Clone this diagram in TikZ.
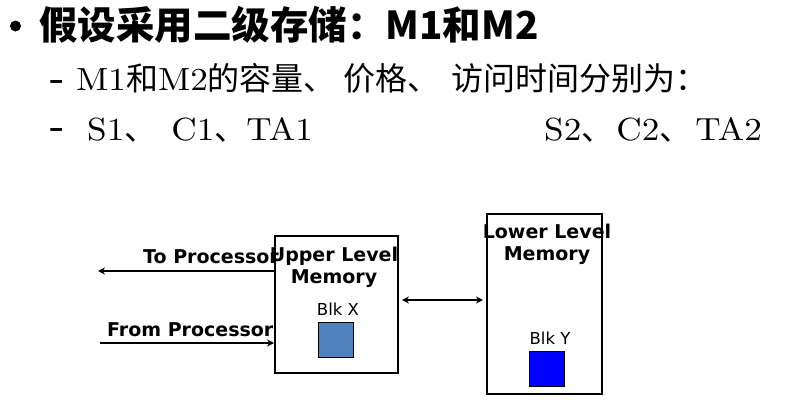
\documentclass[tikz,border=0pt]{standalone}
\usepackage{fontspec}
\usetikzlibrary{arrows.meta}
\setmainfont{Noto Sans CJK SC}
\newfontfamily\cjk{Noto Sans CJK SC}
\newfontfamily\latf{lmroman10-regular.otf}[FakeStretch=1.1]
\newfontfamily\dv{DejaVu Sans}
\newcommand\latw[1]{{\latf\fontsize{32}{34}\selectfont #1}}
\definecolor{blkx}{RGB}{79,129,189}
\definecolor{blky}{RGB}{0,0,255}
\begin{document}
\begin{tikzpicture}[x=1pt,y=-1pt,
  txt/.style={inner sep=0, anchor=base west, font=\cjk\fontsize{32}{36}\selectfont},
  dashtxt/.style={inner sep=0, anchor=base west, font=\cjk\fontsize{26}{30}\selectfont},
  lbl/.style={inner sep=0, anchor=base, font=\dv\bfseries\fontsize{19}{22}\selectfont},
  sm/.style={inner sep=0, anchor=base, font=\dv\fontsize{16.5}{18}\selectfont},
  membox/.style={draw, line width=2pt, inner sep=0, anchor=north west},
  blk/.style={draw, line width=0.8pt, inner sep=0, minimum size=35pt, anchor=north west},
  arr/.style={line width=2pt, -{Stealth[length=7pt,width=7pt]}},
  dbl/.style={line width=2pt, {Stealth[length=7pt,width=7pt]}-{Stealth[length=7pt,width=7pt]}}]
\useasboundingbox (0,0) rectangle (788,408);
% heading lines
\node[circle, fill, inner sep=0, minimum size=11pt] (bul) at (15.5,26) {};
\node[txt, font=\cjk\bfseries\fontsize{38.5}{42}\selectfont] (t1) at (39,39) {假设采用二级存储：M1和M2};
\node[dashtxt] (d2) at (49,89) {\bfseries –};
\node[txt] (t2) at (76,90)
  {\latw{M1}和\latw{M2}的容量、\hspace{8pt}价格、\hspace{12pt}访问时间分别为：};
\node[dashtxt] (d3) at (49,137) {\bfseries –};
\node[txt] (t3a) at (87,140)
  {\latw{S1}、\hspace{15pt}\latw{C1}、\latw{TA1}};
\node[txt] (t3b) at (544,140)
  {\latw{S2}、\hspace{3pt}\latw{C2}、\hspace{4pt}\latw{TA2}};
% diagram
\node[membox, minimum width=123pt, minimum height=137pt] (up) at (274,235) {};
\node[membox, minimum width=115pt, minimum height=180pt] (low) at (486,213) {};
\node[blk, fill=blkx] (bx) at (318,322) {};
\node[blk, fill=blky] (by) at (529,351) {};
\node[inner sep=0, anchor=west, font=\dv\bfseries\fontsize{19}{22}\selectfont] (tpl) at (143,257) {To Processor};
\node[inner sep=0, anchor=west, font=\dv\bfseries\fontsize{19}{22}\selectfont] (fpl) at (107,330) {From Processor};
\node[lbl] (upl1) at (334,261) {Upper Level};
\node[lbl] (upl2) at (334,283) {Memory};
\node[lbl] (lol1) at (547,238) {Lower Level};
\node[lbl] (lol2) at (547,260) {Memory};
\node[sm] (bxl) at (338,315) {Blk X};
\node[sm] (byl) at (550,344) {Blk Y};
\coordinate (tp) at (98,271);
\coordinate (fp) at (100,343);
\draw[arr] (up.west |- tp) -- (tp);
\draw[arr] (fp) -- (up.west |- fp);
\draw[dbl] ([xshift=3pt,yshift=4.5pt]up.east) coordinate (da) -- ([xshift=-3pt]low.west |- da);
\end{tikzpicture}
\end{document}
